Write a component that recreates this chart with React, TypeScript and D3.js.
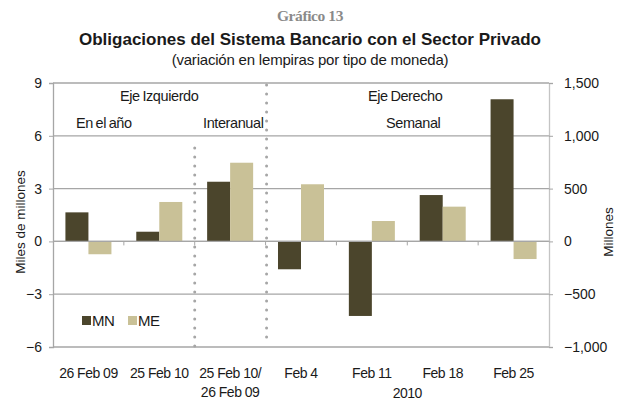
import React, { useRef, useEffect } from "react";
import * as d3 from "d3";

// categories and which axis each one is read against
const categories = ["26 Feb 09", "25 Feb 10", "25 Feb 10/|26 Feb 09", "Feb 4", "Feb 11", "Feb 18", "Feb 25"];
const axisSide = ["left", "left", "left", "right", "right", "right", "right"];
const series = ["MN", "ME"];
// left axis: miles de millones, right axis: millones
const mnValues = [1.65, 0.55, 3.39, -264, -706, 439, 1346];
const meValues = [-0.73, 2.24, 4.47, 541, 193, 329, -167];
const leftTicks = [-6, -3, 0, 3, 6, 9];
const rightTicks = [-1000, -500, 0, 500, 1000, 1500];

const colors = { MN: "#4b452c", ME: "#c9c197" };

const App = () => {
  const svgRef = useRef(null);

  useEffect(() => {
    const width = 619;
    const height = 400;
    const margin = { top: 83, right: 70, bottom: 53, left: 53 };
    const font = "'Liberation Sans', Arial, sans-serif";

    const svg = d3.select(svgRef.current);
    svg.selectAll("*").remove();
    svg.attr("width", width).attr("height", height);

    const x0 = d3
      .scaleBand()
      .domain(categories)
      .range([margin.left, width - margin.right])
      .padding(0);
    const x1 = d3
      .scaleBand()
      .domain(series)
      .range([0, x0.bandwidth()])
      .paddingInner(0)
      .paddingOuter(0.54);

    const yLeft = d3.scaleLinear().domain([-6, 9]).range([height - margin.bottom, margin.top]);
    const yRight = d3.scaleLinear().domain([-1000, 1500]).range([height - margin.bottom, margin.top]);

    /*** titles ***/
    svg
      .append("text")
      .attr("x", 310)
      .attr("y", 21)
      .attr("text-anchor", "middle")
      .style("font-family", "'Liberation Serif', 'Times New Roman', serif")
      .style("font-weight", "bold")
      .style("font-size", "15.5px")
      .style("letter-spacing", "-0.4px")
      .attr("fill", "#8a8a8a")
      .text("Gráfico 13");
    svg
      .append("text")
      .attr("x", 310)
      .attr("y", 45)
      .attr("text-anchor", "middle")
      .style("font-family", font)
      .style("font-weight", "bold")
      .style("font-size", "17px")
      .attr("fill", "#1a1a1a")
      .text("Obligaciones del Sistema Bancario con el Sector Privado");
    svg
      .append("text")
      .attr("x", 310)
      .attr("y", 65)
      .attr("text-anchor", "middle")
      .style("font-family", font)
      .style("font-size", "15px")
      .style("letter-spacing", "-0.2px")
      .attr("fill", "#1a1a1a")
      .text("(variación en lempiras por tipo de moneda)");

    /*** grid ***/
    const grid = svg.append("g");
    grid
      .selectAll("line")
      .data(leftTicks)
      .enter()
      .append("line")
      .attr("x1", margin.left)
      .attr("x2", width - margin.right)
      .attr("y1", (d) => yLeft(d))
      .attr("y2", (d) => yLeft(d))
      .attr("stroke", "#a6a6a6")
      .attr("stroke-width", 1.3);

    /*** bars ***/
    const rows = categories.map((c, i) => ({
      category: c,
      side: axisSide[i],
      MN: mnValues[i],
      ME: meValues[i],
    }));

    const groups = svg
      .append("g")
      .selectAll("g")
      .data(rows)
      .enter()
      .append("g")
      .attr("transform", (d) => `translate(${x0(d.category)},0)`);

    groups
      .selectAll("rect")
      .data((d) => series.map((s) => ({ key: s, value: d[s], y: d.side === "left" ? yLeft : yRight })))
      .enter()
      .append("rect")
      .attr("x", (d) => x1(d.key))
      .attr("width", x1.bandwidth())
      .attr("y", (d) => Math.min(d.y(d.value), d.y(0)))
      .attr("height", (d) => Math.abs(d.y(d.value) - d.y(0)))
      .attr("fill", (d) => colors[d.key]);

    // zero line over the bars
    svg
      .append("line")
      .attr("x1", margin.left)
      .attr("x2", width - margin.right)
      .attr("y1", yLeft(0))
      .attr("y2", yLeft(0))
      .attr("stroke", "#a6a6a6")
      .attr("stroke-width", 1.3);

    // category tick marks at band boundaries
    svg
      .append("g")
      .selectAll("line")
      .data(categories.slice(1))
      .enter()
      .append("line")
      .attr("x1", (d) => x0(d))
      .attr("x2", (d) => x0(d))
      .attr("y1", yLeft(0))
      .attr("y2", yLeft(0) + 4)
      .attr("stroke", "#a6a6a6");

    /*** axes ***/
    const leftAxis = svg
      .append("g")
      .attr("transform", `translate(${margin.left},0)`)
      .call(d3.axisLeft(yLeft).tickValues(leftTicks).tickSize(4).tickPadding(7).tickFormat(d3.format("d")));
    const rightAxis = svg
      .append("g")
      .attr("transform", `translate(${width - margin.right},0)`)
      .call(d3.axisRight(yRight).tickValues(rightTicks).tickSize(4).tickPadding(11).tickFormat(d3.format(",")));
    [leftAxis, rightAxis].forEach((a) => {
      a.select(".domain").attr("stroke", "#a6a6a6").attr("stroke-width", 1.3);
      a.selectAll(".tick line").attr("stroke", "#a6a6a6");
      a.selectAll("text").style("font-family", font).style("font-size", "14px").attr("fill", "#1a1a1a");
    });
    rightAxis.select(".domain").attr("stroke", "#c4c4c4");

    svg
      .append("text")
      .attr("transform", `translate(25,${(margin.top + height - margin.bottom) / 2 + 7}) rotate(-90)`)
      .attr("text-anchor", "middle")
      .style("font-family", font)
      .style("font-size", "13.5px")
      .attr("fill", "#1a1a1a")
      .text("Miles de millones");
    svg
      .append("text")
      .attr("transform", `translate(613,${(margin.top + height - margin.bottom) / 2 + 17}) rotate(-90)`)
      .attr("text-anchor", "middle")
      .style("font-family", font)
      .style("font-size", "13.5px")
      .attr("fill", "#1a1a1a")
      .text("Millones");

    /*** x labels ***/
    const xl = svg.append("g");
    categories.forEach((c) => {
      const lines = c.split("|");
      const t = xl
        .append("text")
        .attr("x", x0(c) + x0.bandwidth() / 2)
        .attr("y", 378)
        .attr("text-anchor", "middle")
        .style("font-family", font)
        .style("font-size", "14px")
        .style("letter-spacing", "-0.5px")
        .attr("fill", "#1a1a1a");
      lines.forEach((l, i) => {
        t.append("tspan")
          .attr("x", x0(c) + x0.bandwidth() / 2)
          .attr("dy", i === 0 ? 0 : 19)
          .text(l);
      });
    });
    xl.append("text")
      .attr("x", (x0("Feb 4") + width - margin.right) / 2)
      .attr("y", 398)
      .attr("text-anchor", "middle")
      .style("font-family", font)
      .style("font-size", "14px")
      .style("letter-spacing", "-0.5px")
      .attr("fill", "#1a1a1a")
      .text("2010");

    /*** dotted separators ***/
    const sep = [
      { x: x0(categories[2]), y1: 148, y2: 347 },
      { x: x0(categories[3]) + 1, y1: 85, y2: 340 },
    ];
    svg
      .append("g")
      .selectAll("line")
      .data(sep)
      .enter()
      .append("line")
      .attr("x1", (d) => d.x)
      .attr("x2", (d) => d.x)
      .attr("y1", (d) => d.y1)
      .attr("y2", (d) => d.y2)
      .attr("stroke", "#a6a6a6")
      .attr("stroke-width", 3)
      .attr("stroke-linecap", "round")
      .attr("stroke-dasharray", "0 9");

    /*** annotations ***/
    const notes = [
      { text: "Eje Izquierdo", x: 120, y: 101 },
      { text: "En el año", x: 76, y: 128 },
      { text: "Interanual", x: 203, y: 128 },
      { text: "Eje Derecho", x: 368, y: 101 },
      { text: "Semanal", x: 386, y: 128 },
    ];
    svg
      .append("g")
      .selectAll("text")
      .data(notes)
      .enter()
      .append("text")
      .attr("x", (d) => d.x)
      .attr("y", (d) => d.y)
      .style("font-family", font)
      .style("font-size", "14.5px")
      .style("letter-spacing", "-0.4px")
      .style("word-spacing", "-1px")
      .attr("fill", "#1a1a1a")
      .text((d) => d.text);

    /*** legend ***/
    const legend = svg.append("g").attr("transform", "translate(82,316)");
    series.forEach((s, i) => {
      const g = legend.append("g").attr("transform", `translate(${i * 46},0)`);
      g.append("rect").attr("width", 9).attr("height", 9).attr("fill", colors[s]);
      g.append("text")
        .attr("x", 10)
        .attr("y", 10)
        .style("font-family", font)
        .style("font-size", "15px")
        .style("letter-spacing", "-0.5px")
        .attr("fill", "#1a1a1a")
        .text(s);
    });
  }, []);

  return (
    <div style={{ position: "absolute", left: 0, top: 0, background: "#fff" }}>
      <svg ref={svgRef} style={{ display: "block" }}></svg>
    </div>
  );
};

export default App;
